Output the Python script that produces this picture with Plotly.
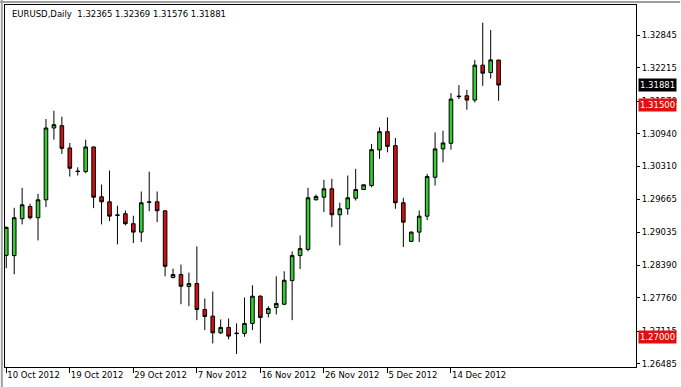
import plotly.graph_objects as go

dates = ["2012-10-10", "2012-10-11", "2012-10-12", "2012-10-14", "2012-10-15", "2012-10-16", "2012-10-17",
         "2012-10-18", "2012-10-19", "2012-10-21", "2012-10-22", "2012-10-23", "2012-10-24", "2012-10-25",
         "2012-10-26", "2012-10-28", "2012-10-29", "2012-10-30", "2012-10-31", "2012-11-01", "2012-11-02",
         "2012-11-04", "2012-11-05", "2012-11-06", "2012-11-07", "2012-11-08", "2012-11-09", "2012-11-11",
         "2012-11-12", "2012-11-13", "2012-11-14", "2012-11-15", "2012-11-16", "2012-11-18", "2012-11-19",
         "2012-11-20", "2012-11-21", "2012-11-22", "2012-11-23", "2012-11-25", "2012-11-26", "2012-11-27",
         "2012-11-28", "2012-11-29", "2012-11-30", "2012-12-02", "2012-12-03", "2012-12-04", "2012-12-05",
         "2012-12-06", "2012-12-07", "2012-12-09", "2012-12-10", "2012-12-11", "2012-12-12", "2012-12-13",
         "2012-12-14", "2012-12-16", "2012-12-17", "2012-12-18", "2012-12-19", "2012-12-20", "2012-12-21"]

opens = [1.28583, 1.28578, 1.29292, 1.29530, 1.29311, 1.29659, 1.31049, 1.31094, 1.30663, 1.30215,
         1.30205, 1.30682, 1.29717, 1.29620, 1.29366, 1.29389, 1.29196, 1.29033, 1.29609, 1.29620,
         1.29445, 1.28153, 1.28211, 1.27979, 1.28037, 1.27535, 1.27406, 1.27083, 1.27187, 1.27067,
         1.27071, 1.27265, 1.27792, 1.27458, 1.27573, 1.27637, 1.28095, 1.28578, 1.28699, 1.29659,
         1.29709, 1.29871, 1.29369, 1.29485, 1.29690, 1.29858, 1.29935, 1.30624, 1.30978, 1.30708,
         1.29601, 1.28854, 1.29033, 1.29342, 1.30095, 1.30644, 1.30752, 1.31656, 1.31673, 1.31590,
         1.32266, 1.32123, 1.32365]
highs = [1.29143, 1.29504, 1.29891, 1.29582, 1.29775, 1.31223, 1.31383, 1.31268, 1.30760, 1.30288,
         1.30823, 1.30690, 1.29954, 1.30225, 1.29543, 1.29452, 1.29350, 1.29819, 1.30205, 1.29819,
         1.29455, 1.28327, 1.28404, 1.28249, 1.28757, 1.27747, 1.27882, 1.27342, 1.27361, 1.27265,
         1.27767, 1.28004, 1.27811, 1.27599, 1.28178, 1.28274, 1.28661, 1.28970, 1.29891, 1.29761,
         1.30045, 1.30064, 1.29601, 1.30128, 1.30258, 1.29954, 1.30740, 1.31061, 1.31254, 1.30856,
         1.29698, 1.29047, 1.29452, 1.30161, 1.30964, 1.30997, 1.31725, 1.31880, 1.31789, 1.32368,
         1.33088, 1.32947, 1.32369]
lows = [1.28332, 1.28217, 1.29182, 1.29279, 1.28873, 1.29516, 1.30823, 1.30547, 1.30109, 1.30128,
        1.30173, 1.29497, 1.29182, 1.29246, 1.28796, 1.29163, 1.28821, 1.28840, 1.29439, 1.29226,
        1.28178, 1.28139, 1.27637, 1.27599, 1.27328, 1.27135, 1.26878, 1.27058, 1.26956, 1.26672,
        1.27006, 1.27135, 1.26878, 1.27380, 1.27438, 1.27618, 1.27328, 1.28319, 1.28661, 1.29645,
        1.29420, 1.29130, 1.28777, 1.29369, 1.29645, 1.29852, 1.29902, 1.30451, 1.30578, 1.29485,
        1.28744, 1.28840, 1.28840, 1.29265, 1.29935, 1.30385, 1.30630, 1.31609, 1.31403, 1.31544,
        1.31866, 1.32007, 1.31576]
closes = [1.29124, 1.29311, 1.29562, 1.29311, 1.29659, 1.31049, 1.31113, 1.30655, 1.30269, 1.30207,
          1.30682, 1.29709, 1.29620, 1.29342, 1.29358, 1.29196, 1.29033, 1.29601, 1.29617, 1.29447,
          1.28371, 1.28211, 1.27985, 1.28037, 1.27535, 1.27400, 1.27083, 1.27187, 1.27019, 1.27075,
          1.27265, 1.27792, 1.27380, 1.27554, 1.27651, 1.28101, 1.28578, 1.28713, 1.29698, 1.29723,
          1.29871, 1.29369, 1.29485, 1.29698, 1.29858, 1.29949, 1.30630, 1.30978, 1.30694, 1.29601,
          1.29226, 1.29033, 1.29342, 1.30109, 1.30644, 1.30760, 1.31609, 1.31664, 1.31590, 1.32266,
          1.32111, 1.32368, 1.31881]

x_tick_dates = ["2012-10-10", "2012-10-19", "2012-10-29", "2012-11-07", "2012-11-16", "2012-11-26",
                "2012-12-05", "2012-12-14"]
x_tick_labels = ["10 Oct 2012", "19 Oct 2012", "29 Oct 2012", "7 Nov 2012", "16 Nov 2012", "26 Nov 2012",
                 "5 Dec 2012", "14 Dec 2012"]
y_tick_vals = [1.32845, 1.32215, 1.31570, 1.30940, 1.30310, 1.29665, 1.29035, 1.28390, 1.27760, 1.27115, 1.26485]
y_tick_labels = ["1.32845", "1.32215", "1.31570", "1.30940", "1.30310", "1.29665", "1.29035", "1.28390",
                 "1.27760", "1.27115", "1.26485"]
levels = [1.31500, 1.27000]
level_labels = ["1.31500", "1.27000"]
last_price = 1.31881
title_text = "EURUSD,Daily  1.32365 1.32369 1.31576 1.31881"

FONT = "DejaVu Sans"
FS = 8.5

fig = go.Figure()
fig.add_trace(go.Candlestick(
    x=dates, open=opens, high=highs, low=lows, close=closes,
    increasing=dict(line=dict(color="black", width=1), fillcolor="#33cc33"),
    decreasing=dict(line=dict(color="black", width=1), fillcolor="#cc1111"),
    whiskerwidth=0, showlegend=False, hoverinfo="skip",
))

for lv in levels:
    fig.add_hline(y=lv, line=dict(color="#cc0000", width=1), layer="above")

annots = [dict(x=0.008, y=0.975, xref="paper", yref="paper", xanchor="left", yanchor="middle",
               text=title_text, showarrow=False, font=dict(family=FONT, size=FS, color="black"))]
for lv, lb in zip(levels, level_labels):
    annots.append(dict(x=1.0, y=lv, xref="paper", yref="y", xanchor="left", yanchor="middle",
                       xshift=2, text=lb, showarrow=False, bgcolor="#e01010", borderpad=1,
                       font=dict(family=FONT, size=FS, color="white")))
annots.append(dict(x=1.0, y=last_price, xref="paper", yref="y", xanchor="left", yanchor="middle",
                   xshift=2, text=f"{last_price:.5f}", showarrow=False, bgcolor="black", borderpad=1,
                   font=dict(family=FONT, size=FS, color="white")))

fig.update_layout(
    width=681, height=387,
    margin=dict(l=4, r=42, t=4, b=20),
    paper_bgcolor="white", plot_bgcolor="white",
    boxgap=0.35,
    annotations=annots,
    xaxis=dict(type="category", range=[-0.16, 79.3], rangeslider=dict(visible=False),
               tickmode="array", tickvals=x_tick_dates, ticktext=x_tick_labels,
               ticks="outside", ticklen=5, tickcolor="black", ticklabelposition="outside right",
               showline=True, linecolor="black", linewidth=1, mirror=True, showgrid=False,
               zeroline=False, tickfont=dict(family=FONT, size=FS, color="black")),
    yaxis=dict(side="right", range=[1.26421, 1.33431], tickmode="array",
               tickvals=y_tick_vals, ticktext=y_tick_labels,
               ticks="outside", ticklen=3, tickcolor="black",
               showline=True, linecolor="black", linewidth=1, mirror=True, showgrid=False,
               zeroline=False, tickfont=dict(family=FONT, size=FS, color="black")),
    shapes=[
        dict(type="line", xref="paper", yref="paper", x0=-0.005, x1=-0.005, y0=-0.06, y1=1.02,
             line=dict(color="#a0a0a0", width=2)),
        dict(type="line", xref="paper", yref="paper", x0=-0.01, x1=1.07, y0=1.0085, y1=1.0085,
             line=dict(color="#a0a0a0", width=2)),
    ],
)

fig.write_html("out.html")
